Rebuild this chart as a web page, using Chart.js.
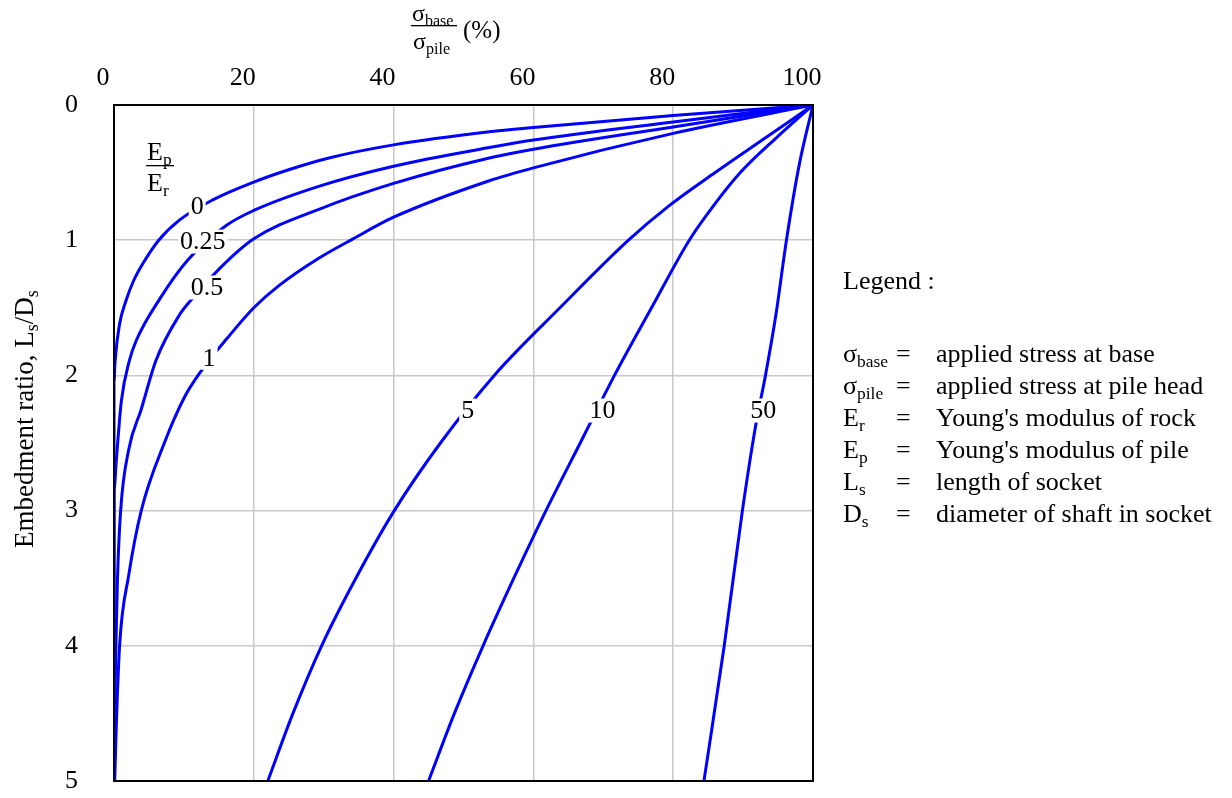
<!DOCTYPE html>
<html>
<head>
<meta charset="utf-8">
<script src="https://cdn.jsdelivr.net/npm/chart.js@4.4.0/dist/chart.umd.min.js"></script>
<style>
  html, body { margin: 0; padding: 0; background: #fff; overflow: hidden; }
  canvas { display: block; }
</style>
</head>
<body>
<canvas id="graph" width="1232" height="798"></canvas>
<script>
// Ep/Er value of each curve
const ratioLabels = ["0", "0.25", "0.5", "1", "5", "10", "50"];

// sigma_base / sigma_pile (%) along each curve
const base0 = [100, 80, 60, 53.7, 40, 30.9, 25.1, 20, 14.2, 9.4, 6.4, 4.4, 2.8, 1.7, 0.8, 0.15, 0, 0];
const base025 = [100, 80, 60, 53.7, 40, 29.4, 20, 16.1, 10.5, 6.6, 3.2, 2.2, 1.05, 0.33, 0, 0];
const base05 = [100, 80, 60, 53.7, 40, 29.4, 20, 15.1, 10.9, 9.4, 6.0, 3.9, 2.1, 0.95, 0.5, 0.27, 0.1, 0];
const base1 = [100, 80, 60, 53.7, 40, 34.2, 29.4, 23.5, 20, 16.6, 12.3, 10.1, 7.2, 3.9, 2.1, 0.8, 0.33, 0.1];
const base5 = [100, 93, 86, 79.3, 73.6, 63.8, 54.4, 46.7, 40.1, 34.6, 29.7, 25.6, 22.0];
const base10 = [100, 94.6, 89.6, 85.7, 82.3, 76.9, 71.6, 66.7, 61.8, 57.2, 52.8, 48.7, 45.0];
const base50 = [100, 98, 96.2, 94.7, 93.2, 91.8, 89.9, 87.3, 84.4];

// embedment ratio Ls/Ds at the same points
const depth0 = [0, 0.077, 0.166, 0.198, 0.295, 0.39, 0.477, 0.57, 0.70, 0.85, 1.0, 1.15, 1.30, 1.45, 1.62, 1.9, 2.05, 5];
const depth025 = [0, 0.125, 0.259, 0.315, 0.453, 0.60, 0.78, 0.89, 1.15, 1.43, 1.74, 1.89, 2.19, 2.63, 2.85, 5];
const depth05 = [0, 0.162, 0.327, 0.392, 0.58, 0.77, 0.99, 1.21, 1.45, 1.55, 1.89, 2.25, 2.55, 3.0, 3.5, 4.0, 4.5, 5];
const depth1 = [0, 0.21, 0.465, 0.56, 0.83, 0.99, 1.13, 1.34, 1.50, 1.70, 1.98, 2.16, 2.5, 3.0, 3.48, 4.0, 4.59, 5];
const depth5 = [0, 0.25, 0.5, 0.75, 1, 1.5, 2, 2.5, 3, 3.5, 4, 4.5, 5];
const depth10 = [0, 0.25, 0.5, 0.75, 1, 1.5, 2, 2.5, 3, 3.5, 4, 4.5, 5];
const depth50 = [0, 0.45, 1.0, 1.55, 2.0, 2.37, 3.0, 4.0, 5];

const xTicks = [0, 20, 40, 60, 80, 100];
const yTicks = [0, 1, 2, 3, 4, 5];

// where the Ep/Er value is written on each curve (data units)
const labelX = [11.9, 12.7, 13.3, 13.6, 50.6, 69.9, 92.9];
const labelY = [0.75, 1.01, 1.35, 1.87, 2.26, 2.26, 2.26];

// legend rows: symbol, subscript, meaning
const legendSym = ["σ", "σ", "E", "E", "L", "D"];
const legendSub = ["base", "pile", "r", "p", "s", "s"];
const legendText = [
  "applied stress at base",
  "applied stress at pile head",
  "Young's modulus of rock",
  "Young's modulus of pile",
  "length of socket",
  "diameter of shaft in socket",
];

const serif = '"Liberation Serif", "Times New Roman", serif';
const blue = "#0000ff";

const allX = [base0, base025, base05, base1, base5, base10, base50];
const allY = [depth0, depth025, depth05, depth1, depth5, depth10, depth50];

const datasets = ratioLabels.map((r, i) => ({
  label: r,
  data: allX[i].map((x, j) => ({ x: x, y: allY[i][j] })),
  showLine: true,
  borderColor: blue,
  borderWidth: 3,
  pointRadius: 0,
  cubicInterpolationMode: "monotone",
  fill: false,
}));

// text with subscripts: parts = [[text, isSub], ...]
function richWidth(c, parts, size) {
  let w = 0;
  parts.forEach(([t, sub]) => {
    c.font = (sub ? size * 0.67 : size) + "px " + serif;
    w += c.measureText(t).width;
  });
  return w;
}
function drawRich(c, parts, x, y, size) {
  c.textAlign = "left";
  c.textBaseline = "alphabetic";
  parts.forEach(([t, sub]) => {
    c.font = (sub ? size * 0.67 : size) + "px " + serif;
    c.fillText(t, x, sub ? y + size * 0.2 : y);
    x += c.measureText(t).width;
  });
  return x;
}

const decorations = {
  id: "decorations",
  afterDatasetsDraw(chart) {
    const c = chart.ctx;
    const xs = chart.scales.x;
    const ys = chart.scales.y;
    const area = chart.chartArea;
    c.save();

    // curve labels on white
    c.font = "26px " + serif;
    ratioLabels.forEach((t, i) => {
      const px = xs.getPixelForValue(labelX[i]);
      const py = ys.getPixelForValue(labelY[i]);
      const w = c.measureText(t).width + 4;
      c.fillStyle = "#fff";
      c.fillRect(px - w / 2, py - 12, w, 24);
      c.fillStyle = "#000";
      c.textAlign = "center";
      c.textBaseline = "middle";
      c.fillText(t, px, py + 1);
    });

    // Ep / Er fraction
    c.fillStyle = "#000";
    const fx = area.left + 33;
    drawRich(c, [["E", false], ["p", true]], fx, area.top + 55, 26);
    c.fillRect(fx - 1, area.top + 60, 28, 1.3);
    drawRich(c, [["E", false], ["r", true]], fx, area.top + 86, 26);

    // frame
    c.strokeStyle = "#000";
    c.lineWidth = 2;
    c.strokeRect(area.left, area.top, area.right - area.left, area.bottom - area.top);
    c.restore();
  },
  afterDraw(chart) {
    const c = chart.ctx;
    c.save();
    c.fillStyle = "#000";

    // top axis title
    drawRich(c, [["σ", false], ["base", true]], 412, 21, 24);
    c.fillRect(411, 25, 46, 1.3);
    drawRich(c, [["σ", false], ["pile", true]], 413, 49, 24);
    c.font = "25px " + serif;
    c.textAlign = "left";
    c.fillText("(%)", 463, 38);

    // left axis title
    const yParts = [["Embedment ratio, L", false], ["s", true], ["/D", false], ["s", true]];
    c.translate(33, 419);
    c.rotate(-Math.PI / 2);
    const w = richWidth(c, yParts, 27);
    drawRich(c, yParts, -w / 2, 0, 27);
    c.setTransform(1, 0, 0, 1, 0, 0);

    // legend
    c.font = "26px " + serif;
    c.textAlign = "left";
    c.fillText("Legend :", 843, 289);
    legendText.forEach((t, i) => {
      const by = 362 + i * 32;
      drawRich(c, [[legendSym[i], false], [legendSub[i], true]], 843, by, 26);
      c.font = "26px " + serif;
      c.fillText("=", 896, by);
      c.fillText(t, 936, by);
    });
    c.restore();
  },
};

new Chart(document.getElementById("graph"), {
  type: "scatter",
  data: { datasets: datasets },
  options: {
    responsive: false,
    animation: false,
    layout: { padding: { left: 65, top: 0, right: 419, bottom: 17 } },
    plugins: { legend: { display: false }, tooltip: { enabled: false } },
    scales: {
      x: {
        type: "linear",
        position: "top",
        min: 0,
        max: 100,
        afterBuildTicks: (s) => { s.ticks = xTicks.map((v) => ({ value: v })); },
        afterFit: (s) => { s.height = 105; },
        ticks: { color: "#000", font: { family: serif, size: 26 }, padding: 11, labelOffset: -11 },
        grid: { color: "#c8c8c8", lineWidth: 1.5, drawTicks: false },
        border: { display: false },
      },
      y: {
        type: "linear",
        reverse: true,
        min: 0,
        max: 5,
        afterBuildTicks: (s) => { s.ticks = yTicks.map((v) => ({ value: v })); },
        afterFit: (s) => { s.width = 49; },
        ticks: { color: "#000", font: { family: serif, size: 26 }, padding: 0, crossAlign: "far" },
        grid: { color: "#c8c8c8", lineWidth: 1.5, drawTicks: false },
        border: { display: false },
      },
    },
  },
  plugins: [decorations],
});
</script>
</body>
</html>
